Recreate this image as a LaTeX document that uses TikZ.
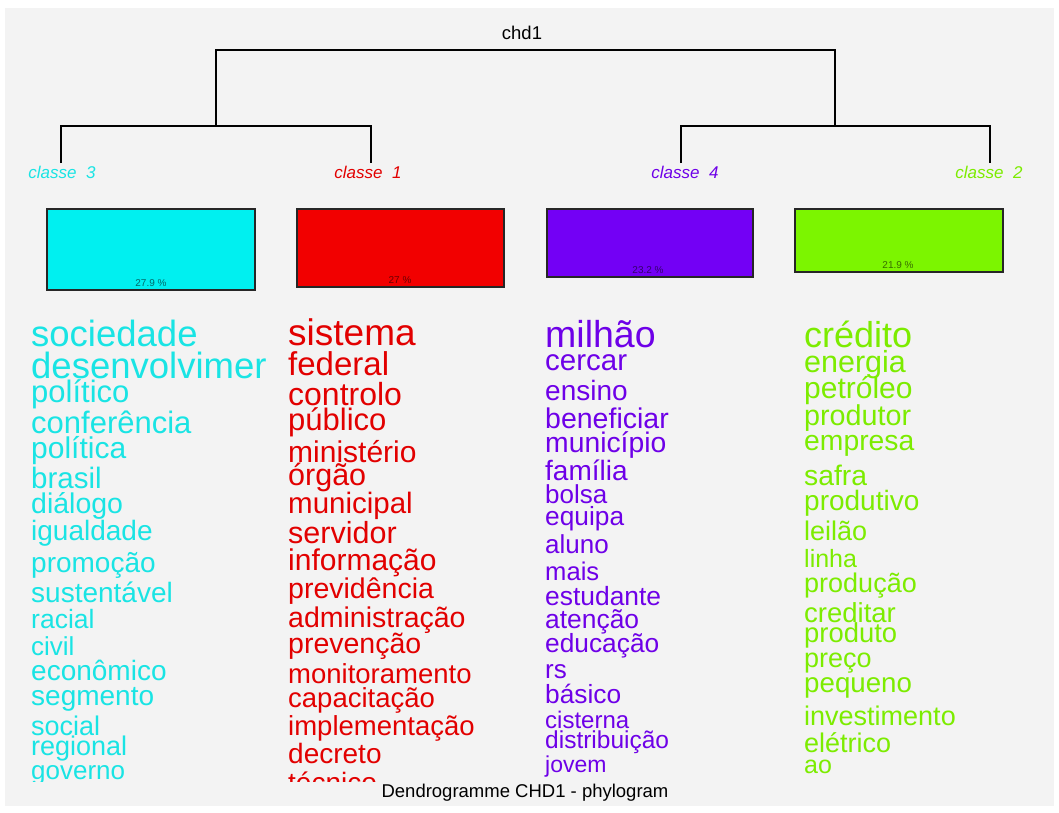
\documentclass[tikz,border=0pt]{standalone}
\usepackage{fontspec}
\setmainfont{Liberation Sans}
\definecolor{bggray}{RGB}{243,243,243}
\definecolor{cyanbox}{RGB}{0,240,240}
\definecolor{cyantxt}{RGB}{25,228,228}
\definecolor{redbox}{RGB}{242,0,0}
\definecolor{redtxt}{RGB}{226,0,0}
\definecolor{purbox}{RGB}{115,0,245}
\definecolor{purtxt}{RGB}{110,0,232}
\definecolor{grnbox}{RGB}{124,245,0}
\definecolor{grntxt}{RGB}{124,236,0}
\begin{document}
\begin{tikzpicture}[x=1pt,y=-1pt,
  dline/.style={line width=1.4pt, draw=black},
  cls/.style={font=\fontsize{17}{17}\selectfont\itshape, inner sep=0, anchor=center},
  ttl/.style={font=\fontsize{18.5}{18.5}\selectfont, inner sep=0, anchor=center, text=black},
  pct/.style={font=\fontsize{10}{10}\selectfont, text=black, text opacity=0.55, inner sep=0, anchor=center},
  bar/.style={draw=black!85, line width=1.2pt},
  word/.style={anchor=base west, inner sep=0}]
\fill[white] (0,0) rectangle (1059,812);
\fill[bggray] (5,8) rectangle (1054,806);
\useasboundingbox (0,0) rectangle (1059,812);

% dendrogram
\node[ttl] (chd) at (522,33) {chd1};
\coordinate (top) at (525,50);
\coordinate (L) at (216,126);
\coordinate (R) at (835,126);
\coordinate (k3) at (61,163);
\coordinate (k1) at (371,163);
\coordinate (k4) at (681,163);
\coordinate (k2) at (990,163);
\draw[dline] (L) -- (L |- top) -- (R |- top) -- (R);
\draw[dline] (k3) -- (k3 |- L) -- (k1 |- L) -- (k1);
\draw[dline] (k4) -- (k4 |- R) -- (k2 |- R) -- (k2);

\node[cls, text=cyantxt] (l3) at (62,172) {classe\ \ 3};
\node[cls, text=redtxt] (l1) at (368,172) {classe\ \ 1};
\node[cls, text=purtxt] (l4) at (685,172) {classe\ \ 4};
\node[cls, text=grntxt] (l2) at (989,172) {classe\ \ 2};

% bars
\draw[bar, fill=cyanbox] (47,209) rectangle (255,290);
\draw[bar, fill=redbox] (297,209) rectangle (504,287);
\draw[bar, fill=purbox] (547,209) rectangle (753,277);
\draw[bar, fill=grnbox] (795,209) rectangle (1003,272);
\node[pct] (p3) at (151,283) {27.9 \%};
\node[pct] (p1) at (400,280) {27 \%};
\node[pct] (p4) at (648,270) {23.2 \%};
\node[pct] (p2) at (898,265) {21.9 \%};

% words
\begin{scope}
\clip (0,300) rectangle (1059,781);
\foreach \yy/\ss/\tt [count=\i] in {
  346/36.5/sociedade, 378/36.5/desenvolvimer, 402/31/político,
  433/31/conferência, 458/30/política, 488/29.5/brasil,
  513/28.5/diálogo, 540/28/igualdade, 572/28/promoção,
  602/28/sustentável, 628/26.5/racial, 655/26/civil,
  680/28/econômico, 705/28/segmento, 735/27/social,
  755/27/regional, 779/26/governo}
  \node[word, text=cyantxt, font=\fontsize{\ss}{\ss}\selectfont] (cw\i) at (31,\yy) {\tt};
\foreach \yy/\ss/\tt [count=\i] in {
  345/37/sistema, 375/33/federal, 405/32/controlo,
  430/31/público, 462/30/ministério, 485/30.5/órgão,
  513/29.5/municipal, 543/30.5/servidor, 570/30/informação,
  598/28.5/previdência, 627/28.5/administração, 653/28.5/prevenção,
  683/27.5/monitoramento, 707/27.5/capacitação, 735/27.5/implementação,
  763/28/decreto, 792/28/técnico}
  \node[word, text=redtxt, font=\fontsize{\ss}{\ss}\selectfont] (rw\i) at (288,\yy) {\tt};
\foreach \yy/\ss/\tt [count=\i] in {
  347/37.5/milhão, 370/29.5/cercar, 400/28/ensino,
  428/28.5/beneficiar, 452/28.3/município, 480/28/família,
  503/26/bolsa, 525/26.3/equipa, 553/26/aluno,
  580/25.6/mais, 605/26.4/estudante, 628/26.4/atenção,
  652/26.3/educação, 678/26/rs, 703/26.3/básico,
  728/24/cisterna, 748/24.5/distribuição, 772/23/jovem}
  \node[word, text=purtxt, font=\fontsize{\ss}{\ss}\selectfont] (pw\i) at (545,\yy) {\tt};
\foreach \yy/\ss/\tt [count=\i] in {
  347/36/crédito, 372/30.5/energia, 398/30/petróleo,
  425/28.7/produtor, 450/28.3/empresa, 485/28.3/safra,
  510/28/produtivo, 540/27/leilão, 567/25/linha,
  592/27/produção, 622/27.5/creditar, 642/27.4/produto,
  667/27/preço, 692/27.7/pequeno, 725/27/investimento,
  752/27/elétrico, 773/25/ao}
  \node[word, text=grntxt, font=\fontsize{\ss}{\ss}\selectfont] (gw\i) at (804,\yy) {\tt};
\end{scope}

\node[ttl] (title) at (525,793) {Dendrogramme CHD1 - phylogram};
\end{tikzpicture}
\end{document}
